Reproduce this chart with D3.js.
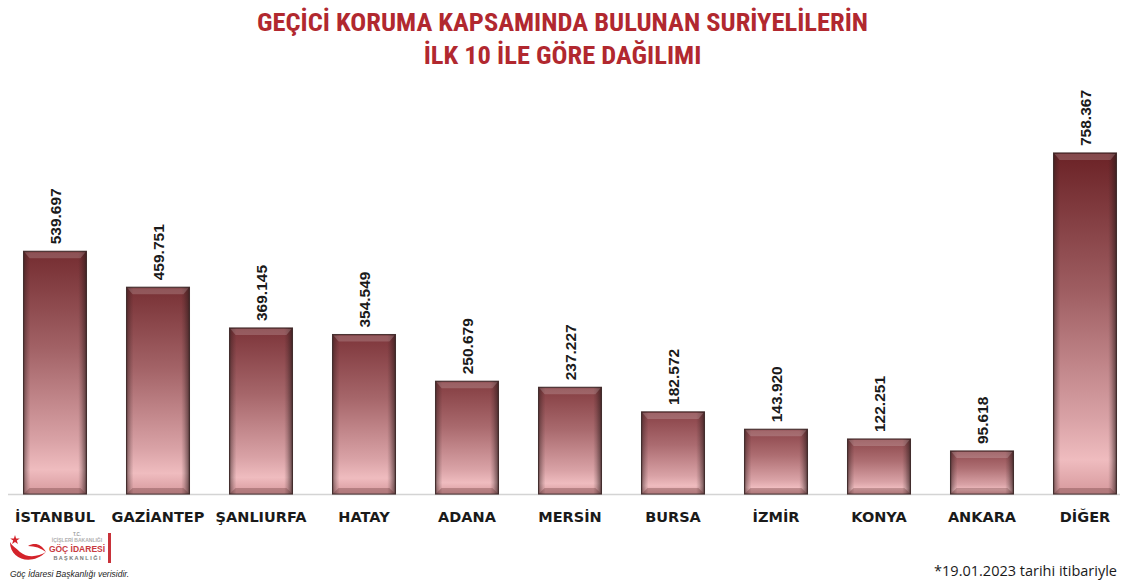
<!DOCTYPE html>
<html>
<head>
<meta charset="utf-8">
<script src="https://cdn.jsdelivr.net/npm/d3@7"></script>
<style>
  body { margin: 0; background: #fff; }
  svg { display: block; }
</style>
</head>
<body>
<svg id="drawing_region"></svg>
<script>
// data
const cities = ['İSTANBUL', 'GAZİANTEP', 'ŞANLIURFA', 'HATAY', 'ADANA', 'MERSİN', 'BURSA', 'İZMİR', 'KONYA', 'ANKARA', 'DİĞER'];
const values = [539697, 459751, 369145, 354549, 250679, 237227, 182572, 143920, 122251, 95618, 758367];
const titleLines = ['GEÇİCİ KORUMA KAPSAMINDA BULUNAN SURİYELİLERİN', 'İLK 10 İLE GÖRE DAĞILIMI'];
const footnote = '*19.01.2023 tarihi itibariyle';
const sourceText = 'Göç İdaresi Başkanlığı verisidir.';

const data = cities.map((c, i) => ({ city: c, value: values[i], i: i }));

const width = 1123, height = 583;
const baseY = 494;

const svg = d3.select('#drawing_region')
    .attr('width', width)
    .attr('height', height);

const defs = svg.append('defs');

const xscale = d3.scaleBand()
    .domain(cities)
    .range([3.5, 1136.5])
    .paddingInner(0.39)
    .paddingOuter(0.195);

const maxV = d3.max(values);
const yscale = d3.scaleLinear()
    .domain([0, maxV])
    .range([baseY, 153]);

// one vertical ramp per bar, top gets darker the taller the bar is
const topColor = d3.interpolateRgb('#a35f64', '#6b2226');
data.forEach(d => {
    const g = defs.append('linearGradient')
        .attr('id', 'barGrad' + d.i)
        .attr('x1', 0).attr('x2', 0).attr('y1', 0).attr('y2', 1);
    const t = Math.sqrt(d.value / maxV);
    g.append('stop').attr('offset', '0%').attr('stop-color', topColor(t));
    g.append('stop').attr('offset', '40%').attr('stop-color', d3.interpolateRgb(topColor(t), '#c88e92')(0.55));
    g.append('stop').attr('offset', '78%').attr('stop-color', '#d9a2a6');
    g.append('stop').attr('offset', '90%').attr('stop-color', '#efbcbf');
    g.append('stop').attr('offset', '100%').attr('stop-color', '#d6989c');
});

// side shading for bevel
const side = defs.append('linearGradient')
    .attr('id', 'sideGrad')
    .attr('x1', 0).attr('x2', 1).attr('y1', 0).attr('y2', 0);
side.append('stop').attr('offset', '0%').attr('stop-color', '#2a1a1a').attr('stop-opacity', 0.5);
side.append('stop').attr('offset', '7%').attr('stop-color', '#2a1a1a').attr('stop-opacity', 0.15);
side.append('stop').attr('offset', '11%').attr('stop-color', '#2a1a1a').attr('stop-opacity', 0);
side.append('stop').attr('offset', '87%').attr('stop-color', '#2a1a1a').attr('stop-opacity', 0);
side.append('stop').attr('offset', '92%').attr('stop-color', '#2a1a1a').attr('stop-opacity', 0.2);
side.append('stop').attr('offset', '100%').attr('stop-color', '#2a1a1a').attr('stop-opacity', 0.65);

// title
svg.append('g')
    .selectAll('text')
    .data(titleLines)
    .join('text')
    .attr('x', width / 2 + 1)
    .attr('y', (d, i) => 31 + i * 33)
    .attr('text-anchor', 'middle')
    .style('font-family', '"Liberation Sans Narrow", "Roboto Condensed", sans-serif')
    .style('font-weight', 'bold')
    .style('font-size', '26.5px')
    .style('fill', '#b1282f')
    .text(d => d);

// baseline
svg.append('line')
    .attr('x1', 8).attr('x2', 1120)
    .attr('y1', baseY + 0.5).attr('y2', baseY + 0.5)
    .attr('stroke', '#d4d4d4')
    .attr('stroke-width', 1.5);

const bars = svg.append('g').selectAll('g')
    .data(data)
    .join('g');

bars.append('rect')
    .attr('x', d => xscale(d.city))
    .attr('y', d => yscale(d.value))
    .attr('width', xscale.bandwidth())
    .attr('height', d => baseY - yscale(d.value))
    .attr('fill', d => `url(#barGrad${d.i})`)
    .attr('stroke', '#4b3434')
    .attr('stroke-width', 1.2);

bars.append('rect')
    .attr('x', d => xscale(d.city))
    .attr('y', d => yscale(d.value))
    .attr('width', xscale.bandwidth())
    .attr('height', d => baseY - yscale(d.value))
    .attr('fill', 'url(#sideGrad)');

// top bevel highlight
bars.append('path')
    .attr('d', d => {
        const x0 = xscale(d.city), x1 = x0 + xscale.bandwidth(), y0 = yscale(d.value);
        return `M${x0 + 1},${y0 + 1} L${x1 - 1},${y0 + 1} L${x1 - 6},${y0 + 7} L${x0 + 6},${y0 + 7} Z`;
    })
    .attr('fill', '#ffffff')
    .attr('fill-opacity', 0.18);

// bottom bevel shade
bars.append('path')
    .attr('d', d => {
        const x0 = xscale(d.city), x1 = x0 + xscale.bandwidth();
        return `M${x0 + 1},${baseY - 1} L${x1 - 1},${baseY - 1} L${x1 - 6},${baseY - 6} L${x0 + 6},${baseY - 6} Z`;
    })
    .attr('fill', '#5a2a2c')
    .attr('fill-opacity', 0.3);

// value labels (rotated)
bars.append('text')
    .attr('transform', d => `translate(${xscale(d.city) + xscale.bandwidth() / 2 + 6}, ${yscale(d.value) - 7}) rotate(-90)`)
    .style('font-family', '"Liberation Sans Narrow", sans-serif')
    .style('font-weight', 'bold')
    .style('font-size', '15.5px')
    .style('fill', '#1a1a1a')
    .text(d => d3.format(',')(d.value).replace(/,/g, '.'));

// category labels
bars.append('text')
    .attr('x', d => xscale(d.city) + xscale.bandwidth() / 2)
    .attr('y', 522)
    .attr('text-anchor', 'middle')
    .style('font-family', '"DejaVu Sans", Verdana, sans-serif')
    .style('font-weight', 'bold')
    .style('font-size', '14.5px')
    .style('fill', '#1a1a1a')
    .text(d => d.city);

// footnote
svg.append('text')
    .attr('x', 1117)
    .attr('y', 576)
    .attr('text-anchor', 'end')
    .style('font-family', '"Open Sans", sans-serif')
    .style('font-size', '14.5px')
    .style('fill', '#1a1a1a')
    .text(footnote);

// logo block
const logo = svg.append('g').attr('transform', 'translate(0, 530)');
logo.append('path')
    .attr('d', 'M10,12 C10,30 32,36 46,22 C38,27 27,28 20,22 C16,18 12,16 10,12 Z')
    .attr('fill', '#d4232a');
logo.append('path')
    .attr('d', 'M28,16 C35,12 41,14 46,22 C41,18 35,16 28,16 Z')
    .attr('fill', '#d4232a');
logo.append('path')
    .attr('d', d3.symbol(d3.symbolStar, 28)())
    .attr('transform', 'translate(15,10)')
    .attr('fill', '#d4232a');
const logoText = [
    { t: 'T.C.', y: 6, s: 4.5, c: '#999' },
    { t: 'İÇİŞLERİ BAKANLIĞI', y: 12, s: 5, c: '#b0b0b0' },
    { t: 'GÖÇ İDARESİ', y: 22, s: 8.5, c: '#c83a40' },
    { t: 'B A Ş K A N L I Ğ I', y: 30, s: 5.5, c: '#777' }
];
logo.selectAll('text.l')
    .data(logoText)
    .join('text')
    .attr('class', 'l')
    .attr('x', 77)
    .attr('y', d => d.y)
    .attr('text-anchor', 'middle')
    .style('font-family', '"Liberation Sans Narrow", sans-serif')
    .style('font-weight', 'bold')
    .style('font-size', d => d.s + 'px')
    .style('fill', d => d.c)
    .text(d => d.t);
logo.append('rect')
    .attr('x', 108).attr('y', 3).attr('width', 3).attr('height', 30)
    .attr('fill', '#c8323a');
logo.append('text')
    .attr('x', 10)
    .attr('y', 47)
    .style('font-family', '"Liberation Sans Narrow", sans-serif')
    .style('font-style', 'italic')
    .style('font-size', '8.5px')
    .style('fill', '#222')
    .text(sourceText);
</script>
</body>
</html>
